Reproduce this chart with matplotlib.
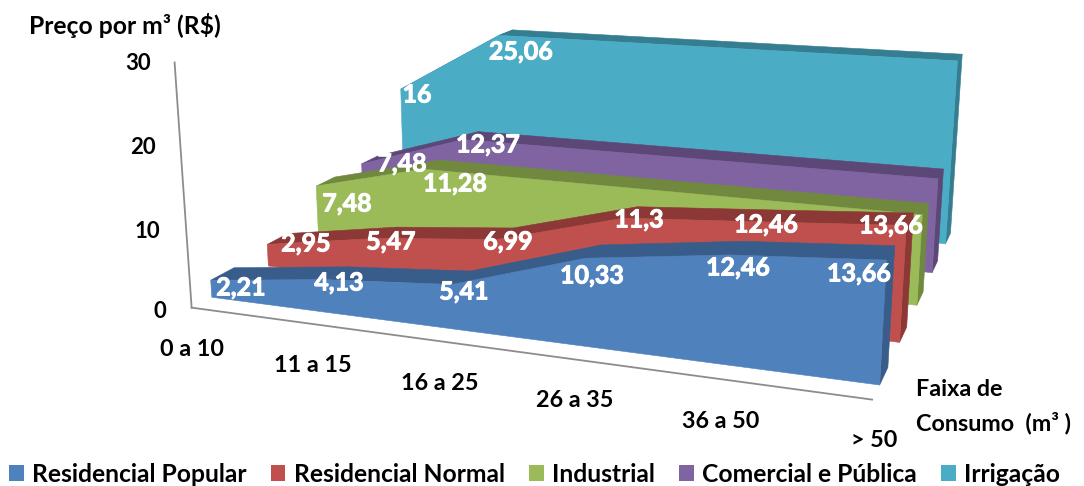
import matplotlib
matplotlib.use('Agg')
import matplotlib.pyplot as plt
import matplotlib.patheffects as pe
from matplotlib.patches import Patch
from mpl_toolkits.mplot3d.art3d import Poly3DCollection

plt.rcParams['font.family'] = ['Lato', 'DejaVu Sans']

W, H = 1084, 486

# Tariff per consumption band, one list per customer class
faixas = ['0 a 10', '11 a 15', '16 a 25', '26 a 35', '36 a 50', '> 50']
residencial_popular = [2.21, 4.13, 5.41, 10.33, 12.46, 13.66]
residencial_normal = [2.95, 5.47, 6.99, 11.3, 12.46, 13.66]
industrial = [7.48, 11.28, 11.28, 11.28, 11.28, 11.28]
comercial_publica = [7.48, 12.37, 12.37, 12.37, 12.37, 12.37]
irrigacao = [16, 25.06, 25.06, 25.06, 25.06, 25.06]
yticks = [0, 10, 20, 30]

nomes = ['Residencial Popular', 'Residencial Normal', 'Industrial', 'Comercial e Pública', 'Irrigação']
series = [residencial_popular, residencial_normal, industrial, comercial_publica, irrigacao]
cores = ['#4F81BD', '#C0504D', '#9BBB59', '#8064A2', '#4BACC6']
cores_escuras = ['#385D8A', '#8C3836', '#71893F', '#5C4776', '#357D91']

# Pixel centres of the value labels; bands hidden behind other series have none
pos_rotulos = [
    [(241, 288), (339, 283), (464, 292), (592, 276), (738, 268), (859, 274)],
    [(306, 244), (391, 242), (508, 242), (639, 220), (766, 225), (891, 226)],
    [(347, 204), (455, 184)],
    [(402, 164), (488, 145)],
    [(417, 95), (521, 52)],
]
pos_faixas = [(192, 349), (313, 365), (440, 383), (575, 400), (721, 421), (874, 440)]
pos_yticks = [(160, 311), (147, 231), (143, 147), (138, 63)]

# Depth of one ribbon and the gap between the value axis and the first series
esp = 0.39597
recuo = 0.32152


def texto(x, y, s, **kw):
    kw.setdefault('ha', 'center')
    kw.setdefault('va', 'center')
    kw.setdefault('fontweight', 'bold')
    return fig.text(x / W, 1 - y / H, s, **kw)


def face(verts, cor, z):
    pc = Poly3DCollection([verts], facecolors=cor, edgecolors=cor, linewidths=0.4, zorder=z)
    ax.add_collection3d(pc, autolim=False)
    pc.set_clip_on(False)


fig = plt.figure(figsize=(W / 100, H / 100), dpi=100)

# Square 3D axes placed so the camera frames the ribbons
lado = 826.96
ax = fig.add_axes([97.83 / W, -135.74 / H, lado / W, lado / H], projection='3d', computed_zorder=False)
ax.set_box_aspect((1, 1, 1))
ax.view_init(15.23782, -68.01309, 0.56808)
ax.set_proj_type('persp', focal_length=0.3465)
ax.set_axis_off()
ax.patch.set_alpha(0)

# Ribbons from the back row to the front one
z = 10
for i in range(len(series) - 1, -1, -1):
    v = series[i]
    n = len(v)
    y0, y1 = i, i + esp
    # right end cap
    face([(n - 1, y0, 0), (n - 1, y1, 0), (n - 1, y1, v[-1]), (n - 1, y0, v[-1])], cores_escuras[i], z)
    z += 1
    # sloped top of each band
    for c in range(n - 1):
        face([(c, y0, v[c]), (c + 1, y0, v[c + 1]), (c + 1, y1, v[c + 1]), (c, y1, v[c])], cores_escuras[i], z)
        z += 1
    # front silhouette
    frente = [(c, y0, v[c]) for c in range(n)] + [(n - 1, y0, 0), (0, y0, 0)]
    face(frente, cores[i], z)
    z += 1

# Value axis and floor line in front of the first ribbon
ax.plot([0, 0], [-recuo, -recuo], [0, yticks[-1]], color='#8C8C8C', lw=1.3, zorder=2)
ax.plot([0, len(faixas) - 1], [-recuo, -recuo], [0, 0], color='#8C8C8C', lw=1.3, zorder=2)

ax.set_xlim(0.60909, 4.11852, view_margin=0)
ax.set_ylim(-1.57178, 2.68230, view_margin=0)
ax.set_zlim(-14.19008, 42.95794, view_margin=0)

# Thin white stroke to thicken the value labels
contorno = [pe.withStroke(linewidth=0.7, foreground='white')]
for i, v in enumerate(series):
    for val, (x, y) in zip(v, pos_rotulos[i]):
        texto(x, y, f'{val:g}'.replace('.', ','), color='white', fontsize=18, path_effects=contorno)

for f, (x, y) in zip(faixas, pos_faixas):
    texto(x, y, f, fontsize=16.8, color='black')
for t, (x, y) in zip(yticks, pos_yticks):
    texto(x, y, str(t), fontsize=16, color='black')

texto(29, 25, 'Preço por m³ (R$)', ha='left', fontsize=17.7)
texto(916, 389, 'Faixa de', ha='left', fontsize=16.8)
texto(916, 423, 'Consumo  (m³ )', ha='left', fontsize=16.8)

handles = [Patch(facecolor=c, edgecolor='none', label=nm) for c, nm in zip(cores, nomes)]
fig.legend(handles=handles, ncol=5, loc='center', bbox_to_anchor=(534.5 / W, 1 - 474 / H), frameon=False,
           prop={'size': 17.7, 'weight': 'bold'}, handlelength=0.59, handleheight=0.59,
           handletextpad=0.33, columnspacing=1.0, borderpad=0, borderaxespad=0)

fig.savefig('out.png', dpi=100)
